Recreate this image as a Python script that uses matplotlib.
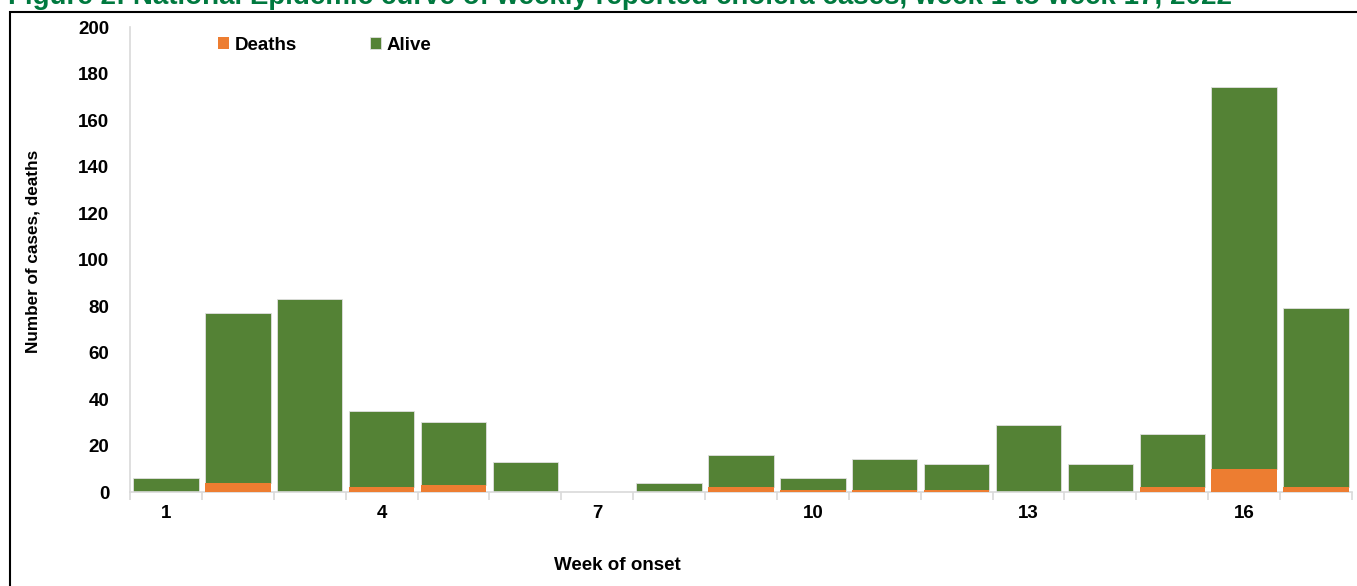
import numpy as np
import matplotlib.pyplot as plt
from matplotlib.patches import Rectangle

plt.rcParams['font.family'] = ['Liberation Sans', 'DejaVu Sans']

# Weekly reported cholera cases, split by outcome
weeks = list(range(1, 18))
deaths = [0, 4, 0, 2, 3, 0, 0, 0, 2, 1, 1, 1, 0, 0, 2, 10, 2]
alive = [6, 73, 83, 33, 27, 13, 0, 4, 14, 5, 13, 11, 29, 12, 23, 164, 77]
tick_weeks = [1, 4, 7, 10, 13, 16]

orange = '#ED7D31'
green = '#548235'
grid_grey = '#d9d9d9'
fs = 13.5

fig = plt.figure(figsize=(13.57, 5.86), dpi=100)
ax = fig.add_axes([0.0958, 0.1604, 0.9005, 0.7935])

x = np.arange(len(weeks))
# deaths drawn above the alive bars so the thin 1-case slices stay visible
ax.bar(x, deaths, width=0.91, color=orange, linewidth=0, label='Deaths', zorder=3)
ax.bar(x, alive, width=0.91, bottom=deaths, color=green, edgecolor='#e0e0e0',
       linewidth=0.6, label='Alive', zorder=2)

ax.set_xlim(-0.5, len(weeks) - 0.5)
ax.set_ylim(0, 200)
ax.set_yticks(range(0, 201, 20))
ax.tick_params(axis='y', length=0, pad=15, labelsize=fs)

# category labels every third week, tick marks on the category boundaries
ax.set_xticks([weeks.index(w) for w in tick_weeks])
ax.set_xticklabels([str(w) for w in tick_weeks])
ax.set_xticks(np.arange(-0.5, len(weeks), 1), minor=True)
ax.tick_params(axis='x', which='major', length=0, pad=9, labelsize=fs)
ax.tick_params(axis='x', which='minor', length=6, width=1.2, color=grid_grey)
for lab in ax.get_xticklabels() + ax.get_yticklabels():
    lab.set_fontweight('bold')

for side in ['top', 'right']:
    ax.spines[side].set_visible(False)
for side in ['left', 'bottom']:
    ax.spines[side].set_color(grid_grey)
    ax.spines[side].set_linewidth(1.2)

ax.text(0.3985, -0.157, 'Week of onset', transform=ax.transAxes,
        ha='center', va='center', fontsize=fs, fontweight='bold')
fig.text(33 / 1357, 1 - 251 / 586, 'Number of cases, deaths', rotation=90,
         ha='center', va='center', fontsize=12.3, fontweight='bold')

ax.legend(loc='center left', bbox_to_anchor=(0.0717, 0.961), ncol=2, frameon=False,
          handlelength=0.6, handleheight=0.6, handletextpad=0.3, columnspacing=3.9,
          borderaxespad=0, borderpad=0, prop={'size': fs, 'weight': 'bold'})

# outer frame around the chart
fig.add_artist(Rectangle((9.5 / 1357, -0.1), 1.2, 1.1 - 11.5 / 586,
                         transform=fig.transFigure, fill=False,
                         edgecolor='black', linewidth=1.5))

fig.text(8 / 1357, 1 - 4 / 586,
         'Figure 2: National Epidemic curve of weekly reported cholera cases, week 1 to week 17, 2022',
         ha='left', va='baseline', fontsize=20, fontweight='bold', color='#00793F')

fig.savefig('out.png', dpi=100)
